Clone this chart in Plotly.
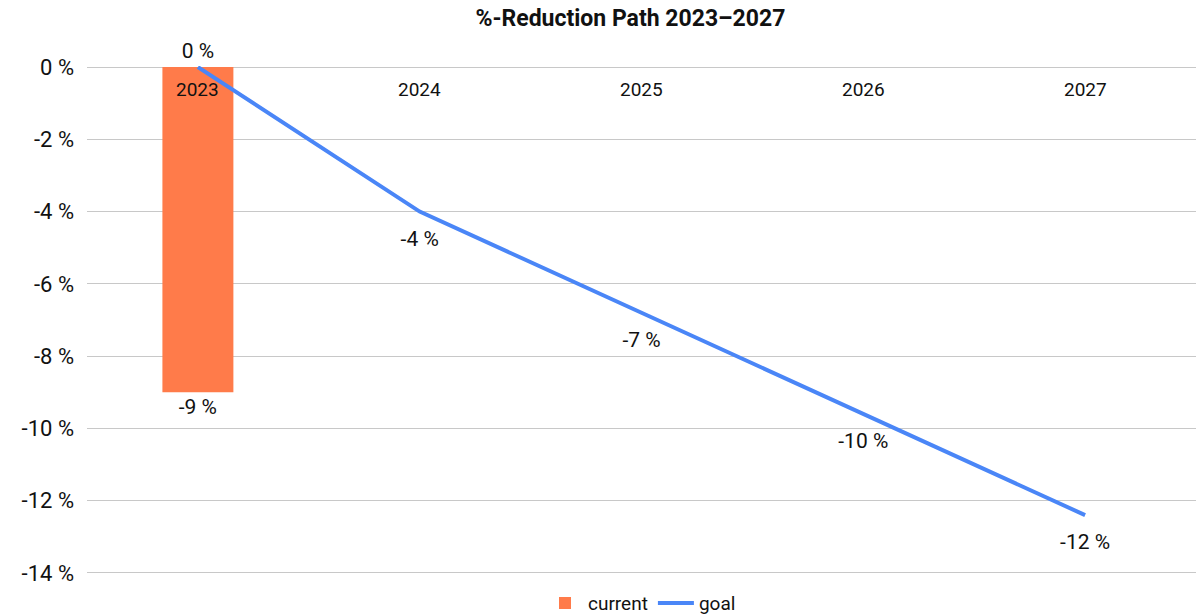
import plotly.graph_objects as go

years = ["2023", "2024", "2025", "2026", "2027"]
current_years = ["2023"]
current_values = [-9]
goal_values = [0, -4, -6.8, -9.6, -12.4]
y_ticks = [0, -2, -4, -6, -8, -10, -12, -14]
y_tick_labels = ["0 %", "-2 %", "-4 %", "-6 %", "-8 %", "-10 %", "-12 %", "-14 %"]
title_text = "%-Reduction Path 2023–2027"

fig = go.Figure()
fig.add_trace(go.Bar(
    x=current_years, y=current_values, name="current",
    marker=dict(color="#FF7B4A", line=dict(width=0)),
    width=0.32,
    text=[f"{v:.0f} %" for v in current_values],
    textposition="outside",
    textfont=dict(family="Roboto", size=21, color="#111"),
    cliponaxis=False,
))
fig.add_trace(go.Scatter(
    x=years, y=goal_values, name="goal", mode="lines",
    line=dict(color="#4A86F7", width=4),
    cliponaxis=False,
))
fig.add_trace(go.Scatter(
    x=years, y=goal_values, name="goal labels", mode="markers+text", showlegend=False,
    marker=dict(size=[4, 28, 28, 28, 28], color="rgba(0,0,0,0)", line=dict(width=0)),
    text=[f"{v:.0f} %" for v in goal_values],
    textposition=["top center"] + ["bottom center"] * 4,
    textfont=dict(family="Roboto", size=21, color="#111"),
    cliponaxis=False, hoverinfo="skip",
))

# category labels just below the 0 % line (category index positions)
for i, yr in enumerate(years):
    fig.add_annotation(x=i, y=0, xref="x", yref="y", text=yr, showarrow=False,
                       yanchor="top", yshift=-9,
                       font=dict(family="Roboto", size=19, color="#111"))

fig.update_layout(
    width=1196, height=614,
    margin=dict(l=87, r=0, t=66, b=40, autoexpand=False),
    paper_bgcolor="white", plot_bgcolor="white",
    title=dict(text=f"<b>{title_text}</b>", x=0.49, xref="paper", xanchor="center",
               y=0.9707, yref="container", yanchor="middle",
               font=dict(family="Roboto", size=23, color="#111")),
    font=dict(family="Roboto", color="#111"),
    showlegend=True,
    legend=dict(orientation="h", x=0.5, xanchor="center", y=-0.02, yanchor="top",
                font=dict(family="Roboto", size=19, color="#111"),
                itemwidth=36),
)
fig.update_xaxes(
    type="category", categoryorder="array", categoryarray=years,
    showticklabels=False, showgrid=False, showline=False, zeroline=False,
    ticks="", automargin=False,
    range=[-0.5, 4.5],
)
fig.update_yaxes(
    range=[-14.03, 0.03], tickvals=y_ticks, ticktext=y_tick_labels, showgrid=True,
    gridcolor="#C8C8C8", gridwidth=1, zeroline=True, zerolinecolor="#C8C8C8",
    zerolinewidth=1, showline=False, automargin=False,
    tickfont=dict(family="Roboto", size=22, color="#111"), ticklabelstandoff=12,
)

fig.write_html("out.html", config={"displayModeBar": False},
               post_script="document.body.style.margin='0';document.body.style.padding='0';")
